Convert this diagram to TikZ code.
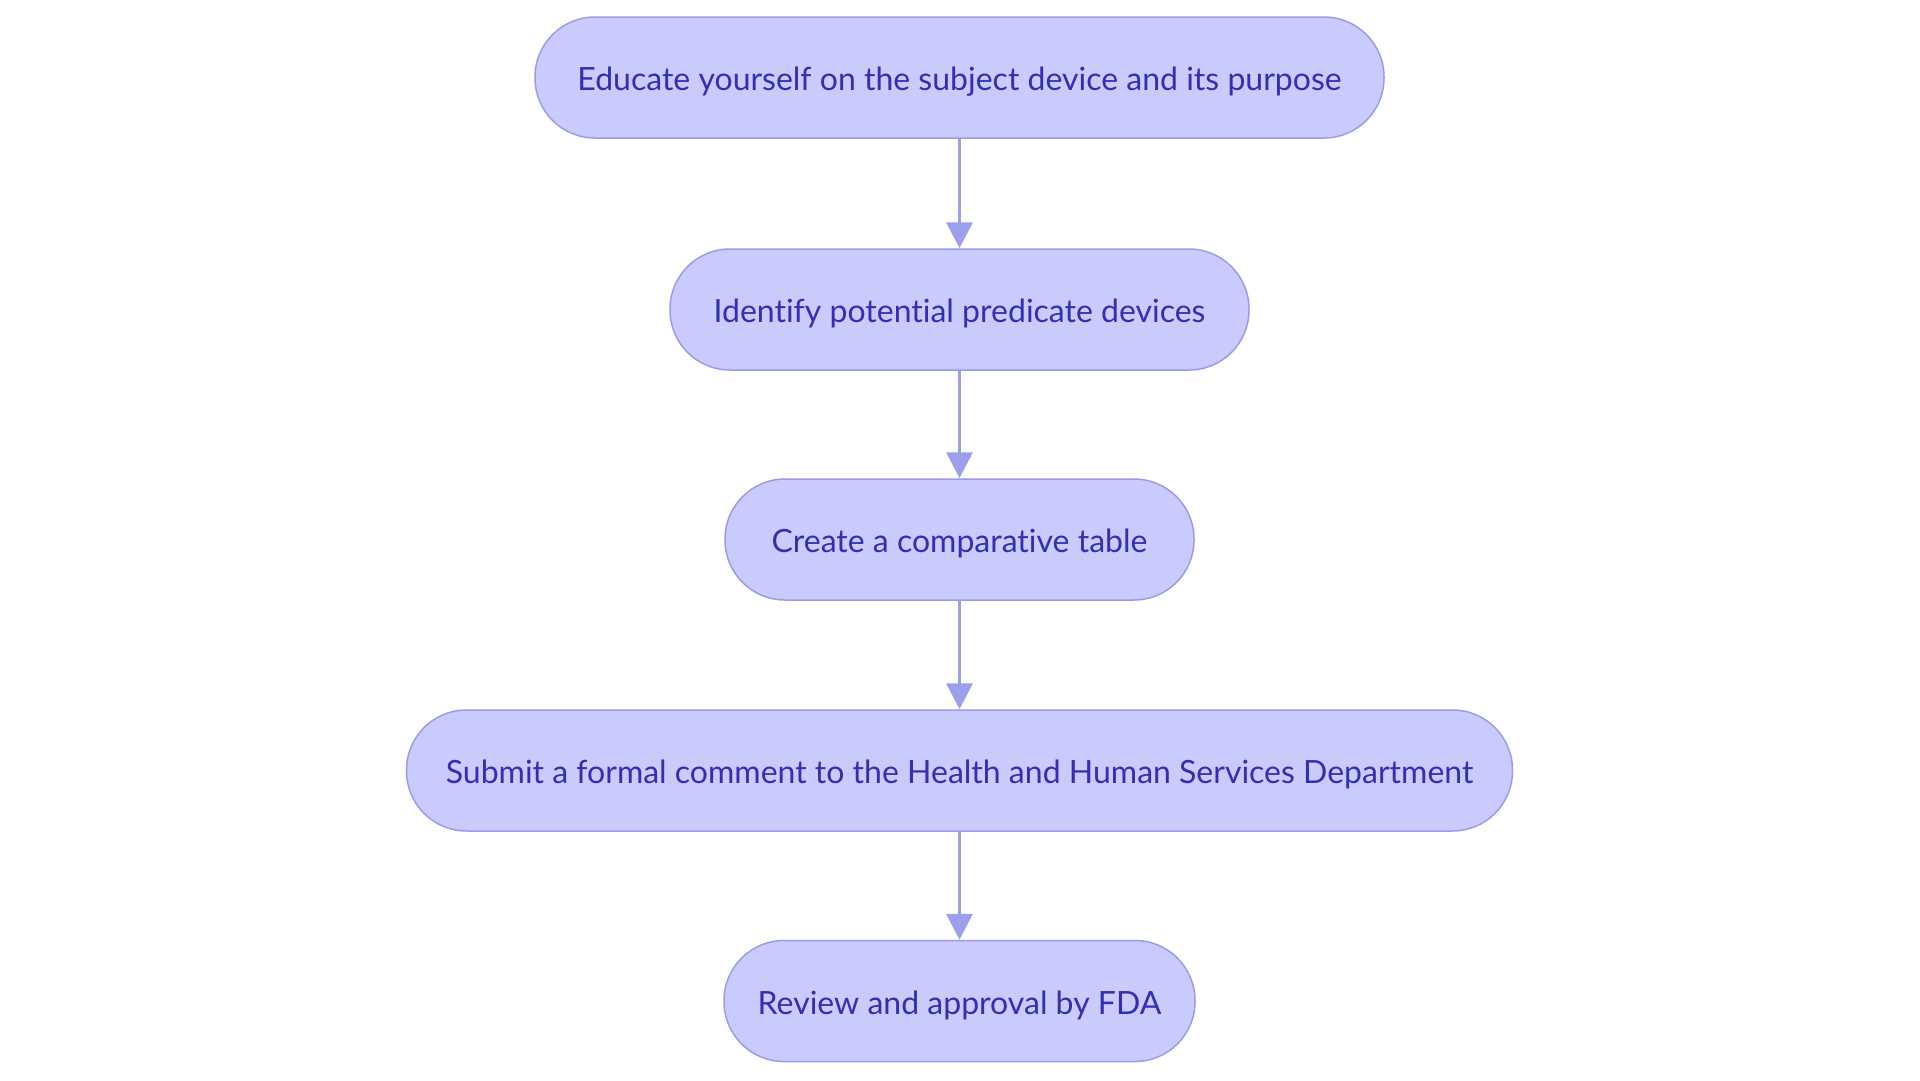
\documentclass[tikz,border=0pt]{standalone}
\usepackage{fontspec}
\setmainfont{Lato}[Ligatures={NoCommon,NoRare}]
\usetikzlibrary{arrows.meta}
\definecolor{boxfill}{HTML}{C9CBFD}
\definecolor{boxline}{HTML}{9A9DE6}
\definecolor{boxtext}{HTML}{2F30B2}
\definecolor{arrowc}{HTML}{9CA0EC}
\tikzset{
  stadium/.style={draw=boxline, fill=boxfill, line width=1.5pt, rounded corners=60pt,
    minimum height=121pt, inner sep=0pt, text=boxtext, font=\fontsize{32}{38}\selectfont,
    text height=26pt, text depth=0pt},
  flow/.style={draw=arrowc, line width=3.5pt, -{Triangle[length=26pt,width=26pt]}}
}
\begin{document}
\begin{tikzpicture}[x=1pt,y=-1pt]
\useasboundingbox[fill=white] (0,0) rectangle (1920,1080);
\node[stadium, minimum width=849pt] (n1) at (959.5,77.5) {Educate yourself on the subject device and its purpose};
\node[stadium, minimum width=579pt] (n2) at (959.5,309.5) {Identify potential predicate devices};
\node[stadium, minimum width=469pt] (n3) at (959.5,539.5) {Create a comparative table};
\node[stadium, minimum width=1106pt] (n4) at (959.5,770.5) {Submit a formal comment to the Health and Human Services Department};
\node[stadium, minimum width=471pt] (n5) at (959.5,1001) {Review and approval by FDA};
\draw[flow] (n1) -- (n2);
\draw[flow] (n2) -- (n3);
\draw[flow] (n3) -- (n4);
\draw[flow] (n4) -- (n5);
\end{tikzpicture}
\end{document}
